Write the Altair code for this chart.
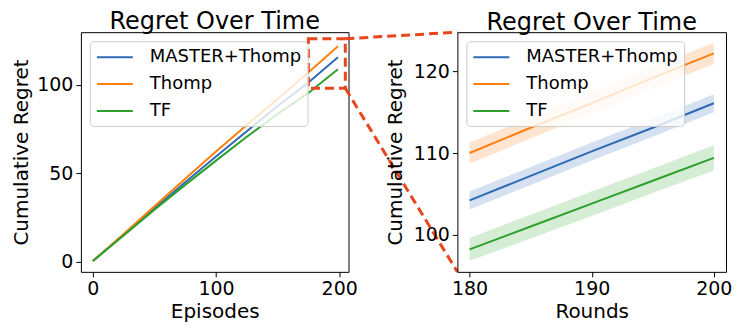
import altair as alt
import pandas as pd

# ---- data ----
series_names = ["MASTER+Thomp", "Thomp", "TF"]
series_colors = ["#2f6ab3", "#ff7f0e", "#2ca02c"]

episodes = [0, 25, 50, 75, 100, 125, 150, 175, 199]
master_regret = [0.5, 15.3, 30.3, 45.0, 59.5, 73.8, 88.0, 101.3, 115.6]
thomp_regret = [0.5, 15.8, 31.5, 47.0, 62.3, 77.3, 92.0, 107.0, 121.8]
tf_regret = [0.5, 15.0, 29.5, 43.5, 57.2, 70.7, 83.5, 95.4, 108.8]

rounds = [180, 185, 190, 195, 200]
master_zoom = [104.2, 107.2, 110.2, 113.1, 116.1]
master_band = [1.1, 1.1, 1.1, 1.1, 1.1]
thomp_zoom = [110.0, 113.1, 116.1, 119.2, 122.2]
thomp_band = [1.3, 1.3, 1.3, 1.3, 1.3]
tf_zoom = [98.2, 101.0, 103.8, 106.6, 109.4]
tf_band = [1.4, 1.45, 1.5, 1.5, 1.55]

zoom_box_x = [175, 205]
zoom_box_y = [98, 126]

left_x_ticks = [0, 100, 200]
left_y_ticks = [0, 50, 100]
right_x_ticks = [180, 190, 200]
right_y_ticks = [100, 110, 120]

# ---- tables ----
full_df = pd.DataFrame({
    "episode": episodes * 3,
    "regret": master_regret + thomp_regret + tf_regret,
    "series": [series_names[0]] * len(episodes) + [series_names[1]] * len(episodes) + [series_names[2]] * len(episodes),
})

means = [master_zoom, thomp_zoom, tf_zoom]
bands = [master_band, thomp_band, tf_band]
rows = []
for name, m, b in zip(series_names, means, bands):
    for r, v, s in zip(rounds, m, b):
        rows.append({"round": r, "regret": v, "lo": v - s, "hi": v + s, "series": name})
zoom_df = pd.DataFrame(rows)

box_df = pd.DataFrame({"x": [zoom_box_x[0]], "x2": [zoom_box_x[1]], "y": [zoom_box_y[0]], "y2": [zoom_box_y[1]]})

RED = "#e8461c"
W_L, W_R, H = 268, 269, 240
GAP = 109

def make_legend():
    return alt.Legend(
        title=None, orient="top-left", offset=9, padding=6,
        labelFontSize=18, labelLimit=300, labelColor="black",
        symbolType="M-1,0H3", symbolSize=324, symbolStrokeWidth=2,
        labelOffset=34, rowPadding=8,
        fillColor="rgba(255,255,255,0.8)", strokeColor="#cccccc", cornerRadius=4,
    )

def color_enc(show_legend=True):
    if show_legend:
        return alt.Color("series:N", scale=alt.Scale(domain=series_names, range=series_colors), legend=make_legend())
    return alt.Color("series:N", scale=alt.Scale(domain=series_names, range=series_colors), legend=None)

lx_scale = alt.Scale(domain=[-9.7, 207.6], nice=False, zero=False)
ly_scale = alt.Scale(domain=[-5.6, 129.7], nice=False, zero=False)

left_lines = alt.Chart(full_df).mark_line(strokeWidth=2).encode(
    x=alt.X("episode:Q", title="Episodes", scale=lx_scale, axis=alt.Axis(values=left_x_ticks, format="d")),
    y=alt.Y("regret:Q", title="Cumulative Regret", scale=ly_scale,
            axis=alt.Axis(values=left_y_ticks, format="d", titlePadding=5)),
    color=color_enc(),
)

box = alt.Chart(box_df).mark_rect(fillOpacity=0, stroke=RED, strokeWidth=3, strokeDash=[9, 5]).encode(
    x=alt.X("x:Q", title="Episodes"), x2="x2:Q",
    y=alt.Y("y:Q", title="Cumulative Regret"), y2="y2:Q",
)

conn_top = alt.Chart(box_df).mark_rule(stroke=RED, strokeWidth=3, strokeDash=[9, 5]).encode(
    x=alt.X("x2:Q", title="Episodes"), y=alt.Y("y2:Q", title="Cumulative Regret"),
    x2=alt.value(W_L + GAP), y2=alt.value(0),
)
conn_bot = alt.Chart(box_df).mark_rule(stroke=RED, strokeWidth=3, strokeDash=[9, 5]).encode(
    x=alt.X("x2:Q", title="Episodes"), y=alt.Y("y:Q", title="Cumulative Regret"),
    x2=alt.value(W_L + GAP), y2=alt.value(H),
)

left = alt.layer(left_lines, box, conn_top, conn_bot).properties(
    width=W_L, height=H, title="Regret Over Time"
)

rx_scale = alt.Scale(domain=[179, 201], nice=False, zero=False)
ry_scale = alt.Scale(domain=[95.45, 124.8], nice=False, zero=False)

right_lines = alt.Chart(zoom_df).mark_line(strokeWidth=2).encode(
    x=alt.X("round:Q", title="Rounds", scale=rx_scale, axis=alt.Axis(values=right_x_ticks, format="d")),
    y=alt.Y("regret:Q", title="Cumulative Regret", scale=ry_scale,
            axis=alt.Axis(values=right_y_ticks, format="d", titlePadding=8)),
    color=color_enc(),
)
right_bands = alt.Chart(zoom_df).mark_area(opacity=0.2).encode(
    x=alt.X("round:Q", title="Rounds"),
    y=alt.Y("lo:Q", title="Cumulative Regret"), y2="hi:Q",
    color=color_enc(False),
)

right = alt.layer(right_lines, right_bands).properties(
    width=W_R, height=H, title="Regret Over Time"
)

chart = alt.hconcat(left, right, spacing=GAP, bounds="flush").resolve_scale(
    color="independent"
).resolve_legend(color="independent").properties(
    padding={"left": 3, "top": 1, "right": 2, "bottom": 2}
).configure(
    font="DejaVu Sans"
).configure_view(
    stroke="black", strokeWidth=1
).configure_axis(
    domain=False, grid=False, ticks=True, tickSize=5, tickColor="black", tickWidth=1,
    labelFontSize=19, labelColor="black", labelPadding=3,
    titleFontSize=20, titleFontWeight="normal", titleColor="black",
    labelFlush=False,
).configure_axisX(
    titlePadding=3
).configure_title(
    fontSize=24, fontWeight="normal", color="black", anchor="middle", offset=-3
)

chart.save("out.html", embed_options={"renderer": "svg", "actions": False})
